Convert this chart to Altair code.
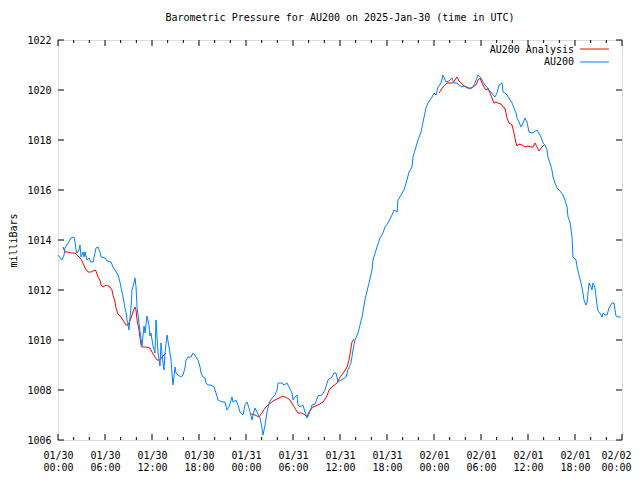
import altair as alt
import pandas as pd

# ---- data (hours since 2025-01-30 00:00 UTC, pressure in mb) ----
au200 = [
    (0.00, 1013.40), (0.51, 1013.20), (0.77, 1013.40), (0.89, 1013.68), (1.28, 1013.88),
    (1.66, 1014.08), (2.04, 1014.12), (2.17, 1013.92), (2.30, 1013.60), (2.43, 1013.48),
    (2.68, 1013.60), (2.81, 1013.80), (2.94, 1013.32), (3.19, 1013.52), (3.32, 1013.32),
    (3.45, 1013.52), (3.70, 1013.20), (3.96, 1013.28), (4.21, 1013.12), (4.47, 1013.12),
    (4.72, 1013.48), (4.85, 1013.68), (5.11, 1013.72), (5.36, 1013.52), (5.49, 1013.32),
    (6.00, 1013.28), (6.26, 1013.16), (6.77, 1013.12), (7.02, 1012.92), (7.28, 1012.80),
    (7.66, 1012.60), (7.91, 1012.32), (8.04, 1012.12), (8.30, 1011.72), (8.55, 1011.28),
    (8.68, 1011.12), (8.81, 1010.80), (9.06, 1010.40), (9.19, 1010.88), (9.32, 1011.32),
    (9.45, 1012.00), (9.70, 1012.28), (9.83, 1012.48), (9.96, 1012.12), (10.09, 1011.32),
    (10.34, 1010.68), (10.60, 1010.04), (10.72, 1009.76), (10.85, 1010.16), (10.98, 1010.56),
    (11.11, 1010.28), (11.36, 1010.96), (11.62, 1010.56), (11.74, 1010.16), (11.87, 1010.28),
    (12.13, 1009.76), (12.38, 1009.48), (12.51, 1010.80), (12.77, 1009.48), (13.02, 1008.96),
    (13.15, 1009.88), (13.40, 1009.08), (13.53, 1008.80), (13.66, 1009.48), (13.92, 1010.20),
    (14.17, 1009.72), (14.43, 1009.20), (14.55, 1008.68), (14.68, 1008.20), (14.94, 1008.92),
    (15.06, 1008.68), (15.32, 1008.60), (15.70, 1008.52), (15.96, 1008.60), (16.21, 1008.88),
    (16.34, 1009.20), (16.60, 1009.32), (16.98, 1009.32), (17.23, 1009.48), (17.49, 1009.40),
    (17.62, 1009.32), (17.87, 1009.20), (18.13, 1008.92), (18.26, 1008.68), (18.51, 1008.52),
    (18.77, 1008.48), (18.89, 1008.28), (19.15, 1008.20), (19.53, 1008.20), (19.92, 1008.12),
    (20.17, 1007.88), (20.43, 1007.60), (20.94, 1007.52), (21.32, 1007.52), (21.57, 1007.20),
    (21.83, 1007.32), (22.21, 1007.72), (22.34, 1007.52), (22.72, 1007.60), (22.98, 1007.40),
    (23.23, 1007.12), (23.62, 1007.00), (23.87, 1007.40), (24.13, 1007.52), (24.38, 1007.28),
    (24.77, 1006.80), (24.89, 1007.00), (25.15, 1007.28), (25.40, 1007.12), (25.79, 1006.88),
    (26.04, 1006.48), (26.17, 1006.20), (26.43, 1006.60), (26.68, 1007.12), (26.94, 1007.48),
    (27.32, 1007.68), (27.70, 1007.80), (27.96, 1008.00), (28.09, 1008.28), (28.60, 1008.28),
    (28.85, 1008.20), (29.23, 1008.28), (29.49, 1008.12), (29.87, 1007.88), (30.00, 1007.60),
    (30.26, 1007.72), (30.51, 1007.80), (30.64, 1007.40), (30.89, 1007.32), (31.28, 1007.40),
    (31.53, 1007.12), (31.79, 1006.88), (32.04, 1007.04), (32.43, 1007.40), (32.81, 1007.44),
    (33.19, 1007.76), (33.70, 1007.80), (34.09, 1008.00), (34.47, 1008.40), (34.98, 1008.52),
    (35.23, 1008.68), (35.49, 1008.68), (35.75, 1008.32), (36.13, 1008.40), (36.38, 1008.44),
    (36.77, 1008.52), (37.02, 1008.80), (37.40, 1009.08), (37.66, 1009.60), (37.91, 1010.00),
    (38.30, 1010.28), (38.81, 1010.92), (39.19, 1011.60), (39.58, 1012.12), (40.09, 1012.80),
    (40.21, 1013.20), (40.72, 1013.72), (41.11, 1014.08), (41.49, 1014.28), (41.74, 1014.52),
    (42.13, 1014.68), (42.64, 1015.00), (42.89, 1015.20), (43.28, 1015.12), (43.40, 1015.60),
    (43.79, 1015.80), (44.17, 1016.00), (44.55, 1016.40), (44.81, 1016.72), (45.19, 1016.92),
    (45.32, 1017.32), (45.70, 1017.72), (45.96, 1018.00), (46.34, 1018.32), (46.60, 1018.72),
    (46.98, 1019.28), (47.23, 1019.48), (47.75, 1019.72), (48.00, 1019.88), (48.26, 1019.80),
    (48.51, 1020.12), (48.89, 1020.28), (49.15, 1020.60), (49.53, 1020.32), (49.91, 1020.36),
    (50.30, 1020.48), (50.55, 1020.28), (50.94, 1020.28), (51.19, 1020.20), (51.57, 1020.12),
    (51.83, 1020.16), (52.21, 1020.08), (52.60, 1020.08), (52.98, 1020.12), (53.23, 1020.28),
    (53.49, 1020.48), (53.62, 1020.60), (54.00, 1020.48), (54.26, 1020.32), (54.51, 1020.20),
    (54.77, 1020.12), (54.89, 1020.00), (55.28, 1019.92), (55.53, 1019.80), (55.79, 1019.72),
    (56.04, 1019.88), (56.30, 1020.20), (56.68, 1020.28), (56.81, 1019.92), (57.06, 1019.88),
    (57.32, 1019.80), (57.57, 1019.68), (57.96, 1019.48), (58.21, 1019.28), (58.47, 1019.08),
    (58.60, 1018.88), (58.85, 1018.72), (59.11, 1018.52), (59.36, 1018.68), (59.62, 1018.88),
    (59.87, 1018.72), (60.13, 1018.32), (60.51, 1018.28), (60.77, 1018.32), (61.15, 1018.40),
    (61.28, 1018.32), (61.66, 1018.12), (61.92, 1017.88), (62.17, 1017.80), (62.43, 1017.60),
    (62.55, 1017.32), (62.81, 1017.08), (63.06, 1016.80), (63.19, 1016.52), (63.45, 1016.28),
    (63.70, 1016.08), (64.09, 1015.96), (64.47, 1015.80), (64.72, 1015.60), (64.98, 1015.32),
    (65.11, 1014.92), (65.36, 1014.72), (65.62, 1014.12), (65.74, 1013.32), (66.13, 1013.20),
    (66.26, 1012.92), (66.51, 1012.60), (66.77, 1012.28), (67.02, 1011.88), (67.15, 1011.60),
    (67.40, 1011.40), (67.53, 1011.48), (67.79, 1012.28), (68.04, 1012.12), (68.17, 1012.00),
    (68.30, 1012.28), (68.55, 1012.08), (68.81, 1011.40), (68.94, 1011.16), (69.19, 1011.08),
    (69.45, 1010.92), (69.57, 1011.08), (69.83, 1011.00), (70.09, 1011.00), (70.34, 1011.28),
    (70.72, 1011.48), (70.98, 1011.48), (71.23, 1010.96), (71.49, 1010.92), (71.87, 1010.92),
]

analysis_1 = [
    (0.64, 1013.72), (0.89, 1013.52), (1.28, 1013.52), (1.66, 1013.48), (2.17, 1013.48),
    (2.55, 1013.36), (2.94, 1013.24), (3.19, 1013.08), (3.45, 1012.88), (3.83, 1012.72),
    (4.21, 1012.72), (4.72, 1012.80), (4.85, 1012.76), (5.11, 1012.52), (5.36, 1012.40),
    (5.49, 1012.20), (5.74, 1012.12), (6.13, 1012.20), (6.64, 1012.12), (6.89, 1012.00),
    (7.02, 1011.80), (7.28, 1011.52), (7.40, 1011.28), (7.66, 1011.04), (8.04, 1010.92),
    (8.30, 1010.80), (8.68, 1010.60), (8.94, 1010.60), (9.32, 1010.88), (9.57, 1011.12),
    (9.83, 1011.32), (9.96, 1011.20), (10.09, 1010.80), (10.34, 1010.40), (10.60, 1009.80),
    (10.72, 1009.72), (11.23, 1009.72), (11.74, 1009.68), (12.00, 1009.52), (12.38, 1009.32),
    (12.64, 1009.20), (13.02, 1009.20), (13.28, 1009.32), (13.53, 1009.40), (13.79, 1009.48),
]
analysis_2 = [
    (24.64, 1007.04), (25.15, 1007.00), (25.66, 1006.92), (26.04, 1007.08), (26.43, 1007.28),
    (26.81, 1007.40), (27.45, 1007.56), (27.96, 1007.64), (28.72, 1007.76), (29.23, 1007.68),
    (29.62, 1007.60), (30.00, 1007.40), (30.38, 1007.20), (30.64, 1007.08), (31.15, 1007.08),
    (31.53, 1007.00), (31.79, 1006.92), (32.04, 1007.12), (32.55, 1007.32), (33.19, 1007.40),
    (33.83, 1007.52), (34.34, 1007.76), (34.60, 1008.00), (35.11, 1008.16), (35.62, 1008.28),
    (36.00, 1008.52), (36.51, 1008.72), (36.89, 1008.92), (37.15, 1009.20), (37.53, 1009.92),
    (37.79, 1010.04),
]
analysis_3 = [
    (48.64, 1019.88), (49.15, 1020.12), (49.66, 1020.28), (50.43, 1020.28), (50.94, 1020.52),
    (51.19, 1020.36), (51.57, 1020.24), (51.83, 1020.16), (52.21, 1020.12), (52.60, 1020.04),
    (52.98, 1020.12), (53.36, 1020.20), (53.62, 1020.40), (53.87, 1020.48), (54.13, 1020.28),
    (54.38, 1020.12), (54.64, 1020.00), (54.89, 1020.08), (55.15, 1019.88), (55.40, 1019.68),
    (55.66, 1019.48), (55.91, 1019.52), (56.17, 1019.48), (56.55, 1019.44), (56.81, 1019.32),
    (57.06, 1019.28), (57.32, 1018.88), (57.57, 1018.68), (57.96, 1018.60), (58.21, 1018.28),
    (58.47, 1017.88), (58.60, 1017.76), (58.85, 1017.84), (59.23, 1017.80), (59.62, 1017.72),
    (60.00, 1017.76), (60.38, 1017.72), (60.64, 1017.72), (60.89, 1017.88), (61.15, 1017.72),
    (61.40, 1017.56), (61.79, 1017.72), (62.04, 1017.80),
]

day_labels = ["01/30", "01/31", "02/01", "02/02"]
x_major = list(range(0, 73, 6))
x_minor = [h for h in range(0, 73, 2) if h % 6]
y_major = list(range(1006, 1023, 2))

title_text = "Barometric Pressure for AU200 on 2025-Jan-30 (time in UTC)"
FONT = "DejaVu Sans Mono"
RED = "#ff0000"
BLUE = "#0080ff"

# ---- build tables ----
blue_df = pd.DataFrame([dict(seg="b", h=h, p=p) for h, p in au200])
arows = []
for i, seg in enumerate([analysis_1, analysis_2, analysis_3]):
    arows += [dict(seg=f"a{i}", h=h, p=p) for h, p in seg]
red_df = pd.DataFrame(arows)

W, H = 564, 400
xs = alt.Scale(domain=[0, 72], nice=False, zero=False)
ys = alt.Scale(domain=[1006, 1022], nice=False, zero=False)

label_expr = (
    "[" + str(day_labels) + "[floor(datum.value/24)], "
    "(datum.value%24<10?'0':'') + (datum.value%24) + ':00']"
)

x_axis = alt.Axis(values=x_major, labelExpr=label_expr, tickSize=0, domain=False,
                  grid=False, labelFont=FONT, labelFontSize=10, labelColor="black",
                  labelPadding=10, labelBaseline="top", labelLineHeight=12,
                  labelOffset={"condition": {"test": "datum.value >= 72", "value": -6},
                               "value": 0},
                  labelOverlap=False, labelFlush=False, labelBound=False, title=None)
y_axis = alt.Axis(values=y_major, tickSize=0, domain=False, grid=False,
                  labelFont=FONT, labelFontSize=10, labelColor="black", labelPadding=7,
                  format="d", labelOverlap=False, title="milliBars", titleFont=FONT,
                  titleFontSize=10, titleFontWeight="normal", titleColor="black",
                  titleX=-45, titleY=200, titleAngle=270, titleBaseline="middle",
                  titleAlign="center")

X = alt.X("h:Q", scale=xs, axis=x_axis)
Y = alt.Y("p:Q", scale=ys, axis=y_axis)

red = alt.Chart(red_df).mark_line(color=RED, strokeWidth=1).encode(
    x=X, y=Y, detail="seg:N", order="h:Q")
blue = alt.Chart(blue_df).mark_line(color=BLUE, strokeWidth=1).encode(
    x=X, y=Y, order="h:Q")

xmaj = pd.DataFrame({"h": x_major})
xmin = pd.DataFrame({"h": x_minor})
ymaj = pd.DataFrame({"p": y_major})

def xticks(df, y0, y1):
    return alt.Chart(df).mark_rule(color="black", strokeWidth=1).encode(
        x=X, y=alt.value(y0), y2=alt.value(y1))

def yticks(df, x0, x1):
    return alt.Chart(df).mark_rule(color="black", strokeWidth=1).encode(
        y=Y, x=alt.value(x0), x2=alt.value(x1))

ticks = [
    xticks(xmaj, H, H - 6), xticks(xmin, H, H - 3),
    xticks(xmaj, 0, 6), xticks(xmin, 0, 3),
    yticks(ymaj, 0, 6), yticks(ymaj, W, W - 6),
]

one = pd.DataFrame({"k": [0]})
leg = [
    alt.Chart(one).mark_text(text="AU200 Analysis", align="right", baseline="middle",
                             font=FONT, fontSize=10, color="black").encode(
        x=alt.value(516), y=alt.value(9.5)),
    alt.Chart(one).mark_rule(color=RED, strokeWidth=1).encode(
        x=alt.value(522), x2=alt.value(551), y=alt.value(9)),
    alt.Chart(one).mark_text(text="AU200", align="right", baseline="middle",
                             font=FONT, fontSize=10, color="black").encode(
        x=alt.value(516), y=alt.value(22)),
    alt.Chart(one).mark_rule(color=BLUE, strokeWidth=1).encode(
        x=alt.value(522), x2=alt.value(551), y=alt.value(22)),
]

chart = alt.layer(red, blue, *ticks, *leg).properties(
    width=W, height=H,
    title=alt.Title(title_text, font=FONT, fontSize=10, fontWeight="normal",
                    color="black", anchor="middle", offset=12),
    autosize="none",
    padding={"left": 50, "top": 32, "right": 10, "bottom": 32},
).configure_view(stroke="black", strokeWidth=1).configure(background="white")

chart.save("out.html", embed_options={"renderer": "svg", "actions": False})
